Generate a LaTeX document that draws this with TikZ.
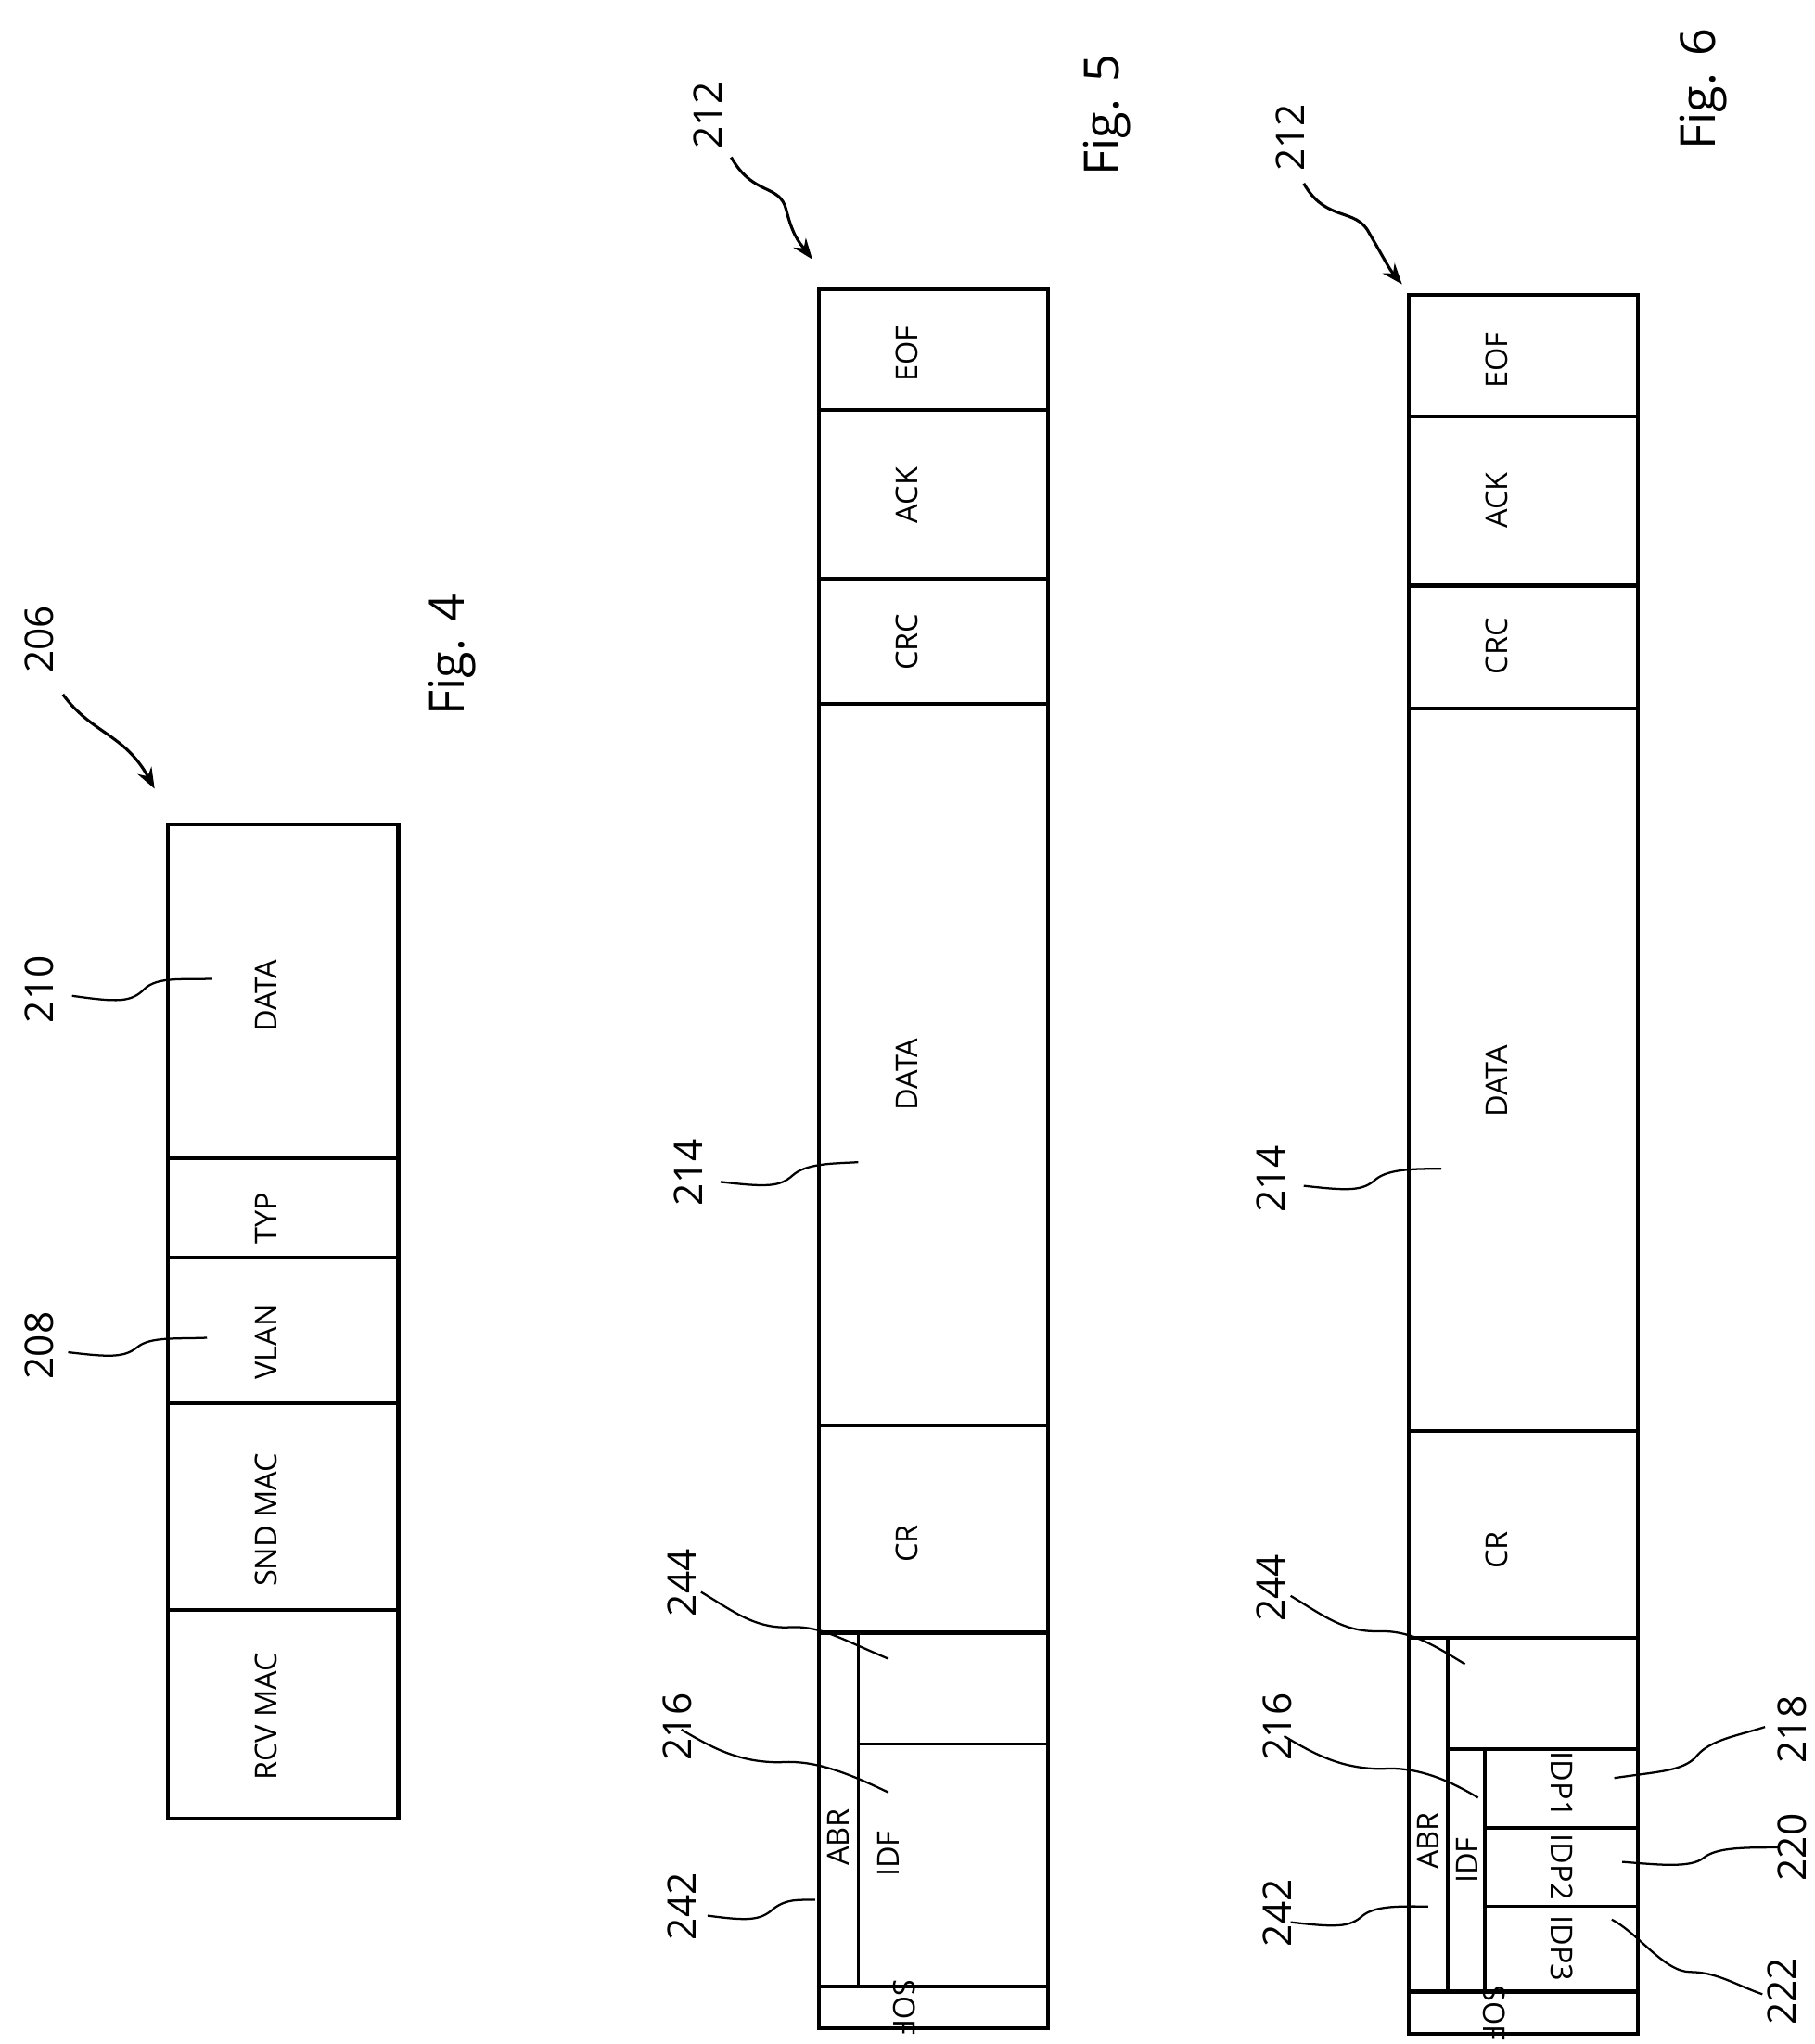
\documentclass[tikz,border=0pt]{standalone}
\usepackage{fontspec}
\setmainfont{Open Sans}
\usetikzlibrary{arrows.meta}
\begin{document}
\begin{tikzpicture}[x=1pt,y=-1pt,
  box/.style={line width=3pt},
  inner/.style={line width=2.5pt},
  lbl/.style={font=\fontsize{23}{23}\selectfont,rotate=90,inner sep=0pt},
  lblr/.style={font=\fontsize{23}{23}\selectfont,rotate=270,inner sep=0pt},
  num/.style={font=\fontsize{30}{30}\selectfont,rotate=90,inner sep=0pt},
  fig/.style={font=\fontsize{37}{37}\selectfont,rotate=90,inner sep=0pt},
  lead/.style={line width=1.6pt},
  arr/.style={line width=2.2pt,-{Stealth[length=16pt,width=12pt]}}]
\useasboundingbox (0,0) rectangle (1385,1560);
% ---------- Fig 4 ----------
\draw[box] (128,629) rectangle (304,1388);
\foreach \y in {884,960,1071,1229} \draw[box] (128,\y) -- (304,\y);
\node[lbl] (d4) at (203,760) {DATA};
\node[lbl] (typ) at (203,930) {TYP};
\node[lbl] (vlan) at (203,1024) {VLAN};
\node[lbl] (snd) at (203,1160) {SND MAC};
\node[lbl] (rcv) at (203,1310) {RCV MAC};
\node[num] (n206) at (30,488) {206};
\coordinate (a4) at (118,602);
\draw[arr] (48,530) .. controls (70,560) and (95,560) .. (a4);
\node[fig] (f4) at (345,500) {Fig. 4};
\node[num] (n210) at (30,755) {210};
\coordinate (t210) at (162,747);
\draw[lead] (55,760) .. controls (90,765) and (100,765) .. (110,755) .. controls (120,745) and (140,748) .. (t210);
\node[num] (n208) at (30,1027) {208};
\coordinate (t208) at (158,1021);
\draw[lead] (52,1032) .. controls (85,1036) and (95,1036) .. (105,1028) .. controls (115,1020) and (135,1022) .. (t208);
% ---------- Fig 5 ----------
\draw[box] (625,221) rectangle (800,1548);
\foreach \y in {313,442,537,1088,1246,1516} \draw[box] (625,\y) -- (800,\y);
\draw[inner] (655,1246) -- (655,1516);
\draw[inner] (655,1331) -- (800,1331);
\node[lbl] (eof5) at (692,270) {EOF};
\node[lbl] (ack5) at (692,378) {ACK};
\node[lbl] (crc5) at (692,490) {CRC};
\node[lbl] (data5) at (692,820) {DATA};
\node[lbl] (cr5) at (692,1178) {CR};
\node[lbl] (abr5) at (640,1402) {ABR};
\node[lbl] (idf5) at (678,1415) {IDF};
\node[lblr] (sof5) at (690,1532) {SOF};
\node[num] (n212a) at (540,88) {212};
\coordinate (a5) at (620,198);
\draw[arr] (558,120) .. controls (575,150) and (595,140) .. (600,160) .. controls (605,180) and (610,185) .. (a5);
\node[fig] (f5) at (845,88) {Fig. 5};
\node[num] (n214a) at (525,895) {214};
\coordinate (t214a) at (655,887);
\draw[lead] (550,902) .. controls (585,906) and (595,906) .. (605,897) .. controls (615,888) and (635,888) .. (t214a);
\node[num] (n244a) at (520,1208) {244};
\coordinate (t244a) at (678,1266);
\draw[lead] (535,1215) .. controls (560,1230) and (575,1242) .. (600,1242) .. controls (625,1240) and (640,1250) .. (t244a);
\node[num] (n216a) at (517,1318) {216};
\coordinate (t216a) at (678,1368);
\draw[lead] (520,1320) .. controls (545,1335) and (565,1345) .. (595,1345) .. controls (620,1343) and (645,1352) .. (t216a);
\node[num] (n242a) at (520,1455) {242};
\coordinate (t242a) at (622,1450);
\draw[lead] (540,1462) .. controls (570,1466) and (580,1466) .. (590,1457) .. controls (600,1449) and (610,1450) .. (t242a);
% ---------- Fig 6 ----------
\draw[box] (1075,225) rectangle (1250,1552);
\foreach \y in {318,447,541,1092,1250,1520} \draw[box] (1075,\y) -- (1250,\y);
\draw[inner] (1105,1250) -- (1105,1520);
\draw[inner] (1105,1335) -- (1250,1335);
\draw[inner] (1133,1335) -- (1133,1520);
\draw[inner] (1133,1395) -- (1250,1395);
\draw[inner] (1133,1455) -- (1250,1455);
\node[lbl] (eof6) at (1142,275) {EOF};
\node[lbl] (ack6) at (1142,382) {ACK};
\node[lbl] (crc6) at (1142,493) {CRC};
\node[lbl] (data6) at (1142,825) {DATA};
\node[lbl] (cr6) at (1142,1183) {CR};
\node[lbl] (abr6) at (1090,1405) {ABR};
\node[lbl] (idf6) at (1120,1420) {IDF};
\node[lblr] (idp1) at (1192,1362) {IDP1};
\node[lblr] (idp2) at (1192,1425) {IDP2};
\node[lblr] (idp3) at (1192,1487) {IDP3};
\node[lblr] (sof6) at (1140,1536) {SOF};
\node[num] (n212b) at (985,105) {212};
\coordinate (a6) at (1070,217);
\draw[arr] (995,140) .. controls (1012,170) and (1035,158) .. (1045,178) .. controls (1055,195) and (1060,205) .. (a6);
\node[fig] (f6) at (1300,68) {Fig. 6};
\node[num] (n214b) at (970,900) {214};
\coordinate (t214b) at (1100,892);
\draw[lead] (995,905) .. controls (1030,909) and (1040,909) .. (1050,900) .. controls (1060,892) and (1080,892) .. (t214b);
\node[num] (n244b) at (970,1212) {244};
\coordinate (t244b) at (1118,1270);
\draw[lead] (985,1218) .. controls (1010,1233) and (1025,1245) .. (1050,1245) .. controls (1075,1244) and (1090,1253) .. (t244b);
\node[num] (n216b) at (975,1318) {216};
\coordinate (t216b) at (1128,1372);
\draw[lead] (980,1325) .. controls (1005,1340) and (1025,1350) .. (1055,1350) .. controls (1080,1348) and (1105,1358) .. (t216b);
\node[num] (n242b) at (975,1460) {242};
\coordinate (t242b) at (1090,1455);
\draw[lead] (985,1467) .. controls (1020,1471) and (1030,1471) .. (1040,1462) .. controls (1050,1454) and (1070,1455) .. (t242b);
\node[num] (n218) at (1368,1320) {218};
\coordinate (t218) at (1232,1357);
\draw[lead] (1347,1318) .. controls (1325,1325) and (1305,1328) .. (1295,1340) .. controls (1285,1352) and (1265,1352) .. (t218);
\node[num] (n220) at (1368,1410) {220};
\coordinate (t220) at (1238,1421);
\draw[lead] (1357,1410) .. controls (1330,1410) and (1310,1410) .. (1300,1418) .. controls (1290,1426) and (1265,1423) .. (t220);
\node[num] (n222) at (1360,1520) {222};
\coordinate (t222) at (1230,1465);
\draw[lead] (1345,1522) .. controls (1325,1515) and (1310,1505) .. (1290,1505) .. controls (1270,1505) and (1250,1475) .. (t222);
\end{tikzpicture}
\end{document}
